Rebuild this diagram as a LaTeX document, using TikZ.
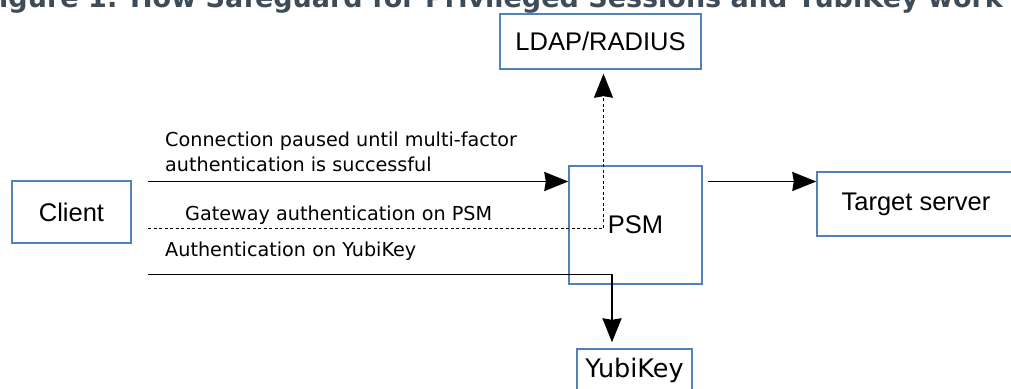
\documentclass[tikz,border=0pt]{standalone}
\usepackage{fontspec}
\setmainfont{Liberation Sans}
\newfontfamily\dejavu{DejaVu Sans}
\usetikzlibrary{arrows.meta}
\definecolor{boxblue}{RGB}{79,129,189}
\definecolor{titlegray}{RGB}{61,76,88}
\begin{document}
\begin{tikzpicture}[x=1pt,y=-1pt,
  box/.style={draw=boxblue, line width=1.4pt, inner sep=0pt, font=\fontsize{25.5}{30}\selectfont},
  flow/.style={line width=1.9pt, -{Stealth[length=24pt,width=19pt,inset=1.5pt]}},
  note/.style={anchor=base west, inner sep=0pt, align=left, font=\dejavu\fontsize{19.2}{24.3}\selectfont}]
\path[use as bounding box, clip] (0,0) rectangle (1011,388);
\node[anchor=base east, inner sep=0pt, text=titlegray, font=\dejavu\bfseries\fontsize{27}{32}\selectfont] (title) at (1003,8){Figure 1: How Safeguard for Privileged Sessions and YubiKey work};
\node[box, minimum width=201pt, minimum height=55pt] (ldap) at (600.5,41.5){LDAP/RADIUS};
\node[box, minimum width=119pt, minimum height=62pt] (client) at (71.5,212){Client};
\node[box, minimum width=133pt, minimum height=118pt] (psm) at (635.5,225){PSM};
\node[box, minimum width=198pt, minimum height=64pt] (target) at (916,204){Target server};
\node[box, minimum width=115pt, minimum height=43pt, font=\dejavu\fontsize{25.5}{30}\selectfont] (yubi) at (634.5,370.5){YubiKey};
\coordinate (c1) at (148,181.5);
\coordinate (c2) at (148,228.5);
\coordinate (c3) at (148,274.5);
\node[note] (n1) at (165,171){Connection paused until multi-factor\\authentication is successful};
\node[note] (n2) at (185,220){Gateway authentication on PSM};
\node[note] (n3) at (165,256){Authentication on YubiKey};
\draw[flow](c1) -- (c1 -| psm.west);
\draw[flow, shorten <=5pt](c1 -| psm.east) -- (c1 -| target.west);
\draw[flow, line width=1.6pt, dash pattern=on 3pt off 2.5pt](c2) -| ([xshift=3pt,yshift=-4pt]ldap.south);
\draw[flow](c3) -| ([xshift=-22.5pt,yshift=6pt]yubi.north);
\end{tikzpicture}
\end{document}
